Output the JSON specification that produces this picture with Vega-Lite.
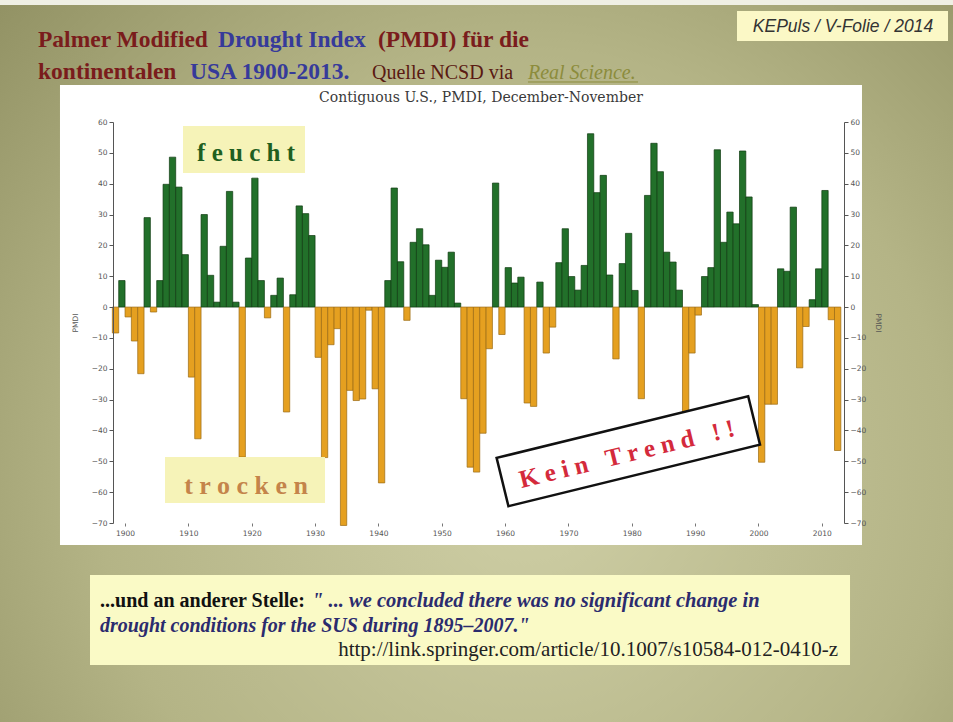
{
  "$schema": "https://vega.github.io/schema/vega-lite/v6.json",
  "width": 731,
  "height": 401,
  "autosize": {"type": "none"},
  "padding": {"left": 113, "top": 122, "right": 109, "bottom": 199},
  "background": "#a9a97c",
  "config": {"view": {"stroke": null}, "font": "Liberation Serif"},
  "data": {"values": [{}]},
  "datasets": {
    "pmdi": [
      {"year": 1898, "pmdi": -8.4}, {"year": 1899, "pmdi": 8.6}, {"year": 1900, "pmdi": -3.2}, {"year": 1901, "pmdi": -11},
      {"year": 1902, "pmdi": -21.6}, {"year": 1903, "pmdi": 29}, {"year": 1904, "pmdi": -1.6}, {"year": 1905, "pmdi": 8.6},
      {"year": 1906, "pmdi": 39.8}, {"year": 1907, "pmdi": 48.6}, {"year": 1908, "pmdi": 38.9}, {"year": 1909, "pmdi": 17},
      {"year": 1910, "pmdi": -22.7}, {"year": 1911, "pmdi": -42.7}, {"year": 1912, "pmdi": 30}, {"year": 1913, "pmdi": 10.3},
      {"year": 1914, "pmdi": 1.6}, {"year": 1915, "pmdi": 19.7}, {"year": 1916, "pmdi": 37.5}, {"year": 1917, "pmdi": 1.6},
      {"year": 1918, "pmdi": -48.6}, {"year": 1919, "pmdi": 15.9}, {"year": 1920, "pmdi": 41.8}, {"year": 1921, "pmdi": 8.6},
      {"year": 1922, "pmdi": -3.5}, {"year": 1923, "pmdi": 3.8}, {"year": 1924, "pmdi": 9.4}, {"year": 1925, "pmdi": -34},
      {"year": 1926, "pmdi": 4}, {"year": 1927, "pmdi": 32.8}, {"year": 1928, "pmdi": 30.3}, {"year": 1929, "pmdi": 23.2},
      {"year": 1930, "pmdi": -16.3}, {"year": 1931, "pmdi": -48.8}, {"year": 1932, "pmdi": -12.2}, {"year": 1933, "pmdi": -7},
      {"year": 1934, "pmdi": -70.8}, {"year": 1935, "pmdi": -27}, {"year": 1936, "pmdi": -30.3}, {"year": 1937, "pmdi": -29.8},
      {"year": 1938, "pmdi": -1}, {"year": 1939, "pmdi": -26.5}, {"year": 1940, "pmdi": -57}, {"year": 1941, "pmdi": 8.6},
      {"year": 1942, "pmdi": 38.6}, {"year": 1943, "pmdi": 14.7}, {"year": 1944, "pmdi": -4.3}, {"year": 1945, "pmdi": 21},
      {"year": 1946, "pmdi": 25.4}, {"year": 1947, "pmdi": 20.2}, {"year": 1948, "pmdi": 3.8}, {"year": 1949, "pmdi": 15.2},
      {"year": 1950, "pmdi": 12.9}, {"year": 1951, "pmdi": 17.8}, {"year": 1952, "pmdi": 1.3}, {"year": 1953, "pmdi": -29.7},
      {"year": 1954, "pmdi": -51.9}, {"year": 1955, "pmdi": -53.5}, {"year": 1956, "pmdi": -40.9}, {"year": 1957, "pmdi": -13.5},
      {"year": 1958, "pmdi": 40.2}, {"year": 1959, "pmdi": -8.9}, {"year": 1960, "pmdi": 12.8}, {"year": 1961, "pmdi": 7.8},
      {"year": 1962, "pmdi": 9.7}, {"year": 1963, "pmdi": -31.1}, {"year": 1964, "pmdi": -32.2}, {"year": 1965, "pmdi": 8.1},
      {"year": 1966, "pmdi": -14.9}, {"year": 1967, "pmdi": -6.5}, {"year": 1968, "pmdi": 14.4}, {"year": 1969, "pmdi": 25.4},
      {"year": 1970, "pmdi": 9.9}, {"year": 1971, "pmdi": 5.5}, {"year": 1972, "pmdi": 13.5}, {"year": 1973, "pmdi": 56.2},
      {"year": 1974, "pmdi": 37.1}, {"year": 1975, "pmdi": 42.7}, {"year": 1976, "pmdi": 10.4}, {"year": 1977, "pmdi": -16.8},
      {"year": 1978, "pmdi": 14.1}, {"year": 1979, "pmdi": 23.9}, {"year": 1980, "pmdi": 5.4}, {"year": 1981, "pmdi": -29.7},
      {"year": 1982, "pmdi": 36.2}, {"year": 1983, "pmdi": 53.1}, {"year": 1984, "pmdi": 43.9}, {"year": 1985, "pmdi": 17.8},
      {"year": 1986, "pmdi": 14.6}, {"year": 1987, "pmdi": 5.5}, {"year": 1988, "pmdi": -37.3}, {"year": 1989, "pmdi": -14.9},
      {"year": 1990, "pmdi": -2.6}, {"year": 1991, "pmdi": 9.9}, {"year": 1992, "pmdi": 12.8}, {"year": 1993, "pmdi": 51},
      {"year": 1994, "pmdi": 21}, {"year": 1995, "pmdi": 30.8}, {"year": 1996, "pmdi": 27}, {"year": 1997, "pmdi": 50.6},
      {"year": 1998, "pmdi": 35.7}, {"year": 1999, "pmdi": 0.8}, {"year": 2000, "pmdi": -50.3}, {"year": 2001, "pmdi": -31.5},
      {"year": 2002, "pmdi": -31.5}, {"year": 2003, "pmdi": 12.4}, {"year": 2004, "pmdi": 11.6}, {"year": 2005, "pmdi": 32.4},
      {"year": 2006, "pmdi": -19.7}, {"year": 2007, "pmdi": -6.3}, {"year": 2008, "pmdi": 2.4}, {"year": 2009, "pmdi": 12.4},
      {"year": 2010, "pmdi": 37.8}, {"year": 2011, "pmdi": -4.1}, {"year": 2012, "pmdi": -46.5}
    ]
  },
  "resolve": {"axis": {"y": "independent", "x": "independent"}},
  "layer": [
    {
      "mark": {"type": "rect", "fill": {"gradient": "radial", "x1": 0.55, "y1": 0.62, "r1": 0, "x2": 0.55, "y2": 0.62, "r2": 0.8, "stops": [{"offset": 0, "color": "#cfcfa6"}, {"offset": 0.55, "color": "#b4b486"}, {"offset": 1, "color": "#8a8a5c"}]}},
      "encoding": {"x": {"datum": 1879, "type": "quantitative", "axis": null}, "x2": {"datum": 2032}, "y": {"datum": 101, "type": "quantitative", "axis": null}, "y2": {"datum": -136}}
    },
    {
      "mark": {"type": "rect", "fill": "#efefe4"},
      "encoding": {"x": {"datum": 1879, "type": "quantitative", "axis": null}, "x2": {"datum": 2032}, "y": {"datum": 101, "type": "quantitative", "axis": null}, "y2": {"datum": 97.93}}
    },
    {
      "mark": {"type": "rect", "fill": "#ffffff"},
      "encoding": {"x": {"datum": 1889.73, "type": "quantitative", "axis": null}, "x2": {"datum": 2016.34}, "y": {"datum": 72.0, "type": "quantitative", "axis": null}, "y2": {"datum": -77.13}}
    },
    {
      "data": {"name": "pmdi"},
      "mark": {"type": "bar", "width": 6.33, "xOffset": 3.17, "strokeWidth": 0.7},
      "encoding": {
        "x": {"field": "year", "type": "quantitative", "scale": {"domain": [1898.1, 2013.5], "nice": false, "zero": false, "padding": 0},
              "axis": {"zindex": 1, "orient": "bottom", "values": [1900, 1910, 1920, 1930, 1940, 1950, 1960, 1970, 1980, 1990, 2000, 2010], "format": "d", "domain": false, "grid": false, "ticks": true, "labels": true, "tickSize": 3, "tickColor": "#777", "labelFont": "DejaVu Sans", "labelFontSize": 7.5, "labelColor": "#555", "labelPadding": 3, "title": ""}},
        "y": {"field": "pmdi", "type": "quantitative", "scale": {"domain": [-70, 60], "nice": false, "zero": false, "padding": 0},
              "axis": {"zindex": 1, "values": [-70, -60, -50, -40, -30, -20, -10, 0, 10, 20, 30, 40, 50, 60], "format": "d", "grid": false, "domainColor": "#555", "tickColor": "#555", "tickSize": 4, "labelFont": "DejaVu Sans", "labelFontSize": 7.5, "labelColor": "#555", "labelPadding": 2, "title": "PMDI", "titleFont": "DejaVu Sans", "titleFontSize": 7.5, "titleFontWeight": "normal", "titleColor": "#555", "titlePadding": 12}},
        "color": {"condition": {"test": "datum.pmdi >= 0", "value": "#22702a"}, "value": "#e5a020"},
        "stroke": {"condition": {"test": "datum.pmdi >= 0", "value": "#0e3a10"}, "value": "#9b6a12"}
      }
    },
    {
      "data": {"name": "pmdi"},
      "mark": {"type": "point", "opacity": 0},
      "encoding": {
        "x": {"field": "year", "type": "quantitative", "axis": null},
        "y": {"field": "pmdi", "type": "quantitative",
              "axis": {"zindex": 1, "orient": "right", "values": [-70, -60, -50, -40, -30, -20, -10, 0, 10, 20, 30, 40, 50, 60], "format": "d", "grid": false, "domainColor": "#555", "tickColor": "#555", "tickSize": 4, "labelFont": "DejaVu Sans", "labelFontSize": 7.5, "labelColor": "#555", "labelPadding": 2, "title": "PMDI", "titleFont": "DejaVu Sans", "titleFontSize": 7.5, "titleFontWeight": "normal", "titleColor": "#555", "titlePadding": 8}}
      }
    },
    {
      "mark": {"type": "text", "text": "Contiguous U.S., PMDI, December-November", "font": "DejaVu Serif", "fontSize": 14, "color": "#3a3a3a", "align": "center", "baseline": "middle"},
      "encoding": {"x": {"datum": 1956.19, "type": "quantitative", "axis": null}, "y": {"datum": 67.78, "type": "quantitative", "axis": null}}
    },
    {
      "mark": {"type": "rect", "fill": "#f6f3b8"},
      "encoding": {"x": {"datum": 1909.15, "type": "quantitative", "axis": null}, "x2": {"datum": 1928.41}, "y": {"datum": 58.7, "type": "quantitative", "axis": null}, "y2": {"datum": 43.47}}
    },
    {
      "mark": {"type": "text", "text": "f e u c h t", "font": "Liberation Serif", "fontSize": 25, "fontWeight": "bold", "color": "#1f5f1f", "align": "center", "baseline": "alphabetic"},
      "encoding": {"x": {"datum": 1919.1, "type": "quantitative", "axis": null}, "y": {"datum": 47.36, "type": "quantitative", "axis": null}}
    },
    {
      "mark": {"type": "rect", "fill": "#f6f3b8"},
      "encoding": {"x": {"datum": 1906.31, "type": "quantitative", "axis": null}, "x2": {"datum": 1931.57}, "y": {"datum": -48.6, "type": "quantitative", "axis": null}, "y2": {"datum": -63.52}}
    },
    {
      "mark": {"type": "text", "text": "t r o c k e n", "font": "Liberation Serif", "fontSize": 26, "fontWeight": "bold", "color": "#c4844a", "align": "center", "baseline": "alphabetic"},
      "encoding": {"x": {"datum": 1919.1, "type": "quantitative", "axis": null}, "y": {"datum": -60.6, "type": "quantitative", "axis": null}}
    },
    {
      "mark": {"type": "point", "shape": "M-1,-0.192L1,-0.192L1,0.192L-1,0.192Z", "size": 67081, "angle": -13.76, "filled": true, "fill": "#ffffff", "stroke": "#111111", "strokeWidth": 2.5, "opacity": 1},
      "encoding": {"x": {"datum": 1979.45, "type": "quantitative", "axis": null}, "y": {"datum": -46.74, "type": "quantitative", "axis": null}}
    },
    {
      "mark": {"type": "text", "text": "K e i n\u00a0\u00a0 T r e n d\u00a0\u00a0 ! !", "font": "Liberation Serif", "fontSize": 25, "fontWeight": "bold", "color": "#d42a3c", "align": "center", "baseline": "middle", "angle": -13.76},
      "encoding": {"x": {"datum": 1979.24, "type": "quantitative", "axis": null}, "y": {"datum": -47.63, "type": "quantitative", "axis": null}}
    },
    {
      "mark": {"type": "rect", "fill": "#fbf8c6"},
      "encoding": {"x": {"datum": 1996.61, "type": "quantitative", "axis": null}, "x2": {"datum": 2029.92}, "y": {"datum": 95.99, "type": "quantitative", "axis": null}, "y2": {"datum": 86.26}}
    },
    {
      "mark": {"type": "text", "text": "KEPuls / V-Folie / 2014", "font": "Liberation Sans", "fontSize": 17.5, "fontStyle": "italic", "color": "#333333", "align": "center", "baseline": "middle"},
      "encoding": {"x": {"datum": 2013.34, "type": "quantitative", "axis": null}, "y": {"datum": 90.96, "type": "quantitative", "axis": null}}
    },
    {
      "mark": {"type": "text", "text": "Palmer Modified", "font": "Liberation Serif", "fontSize": 23.5, "fontWeight": "bold", "color": "#7a1c1c", "align": "left", "baseline": "alphabetic"},
      "encoding": {"x": {"datum": 1886.26, "type": "quantitative", "axis": null}, "y": {"datum": 84.31, "type": "quantitative", "axis": null}}
    },
    {
      "mark": {"type": "text", "text": "Drought Index", "font": "Liberation Serif", "fontSize": 23.5, "fontWeight": "bold", "color": "#363a9a", "align": "left", "baseline": "alphabetic"},
      "encoding": {"x": {"datum": 1914.68, "type": "quantitative", "axis": null}, "y": {"datum": 84.31, "type": "quantitative", "axis": null}}
    },
    {
      "mark": {"type": "text", "text": "(PMDI) für die", "font": "Liberation Serif", "fontSize": 23.5, "fontWeight": "bold", "color": "#7a1c1c", "align": "left", "baseline": "alphabetic"},
      "encoding": {"x": {"datum": 1939.93, "type": "quantitative", "axis": null}, "y": {"datum": 84.31, "type": "quantitative", "axis": null}}
    },
    {
      "mark": {"type": "text", "text": "kontinentalen", "font": "Liberation Serif", "fontSize": 23.5, "fontWeight": "bold", "color": "#7a1c1c", "align": "left", "baseline": "alphabetic"},
      "encoding": {"x": {"datum": 1886.26, "type": "quantitative", "axis": null}, "y": {"datum": 73.94, "type": "quantitative", "axis": null}}
    },
    {
      "mark": {"type": "text", "text": "USA 1900-2013.", "font": "Liberation Serif", "fontSize": 23.5, "fontWeight": "bold", "color": "#363a9a", "align": "left", "baseline": "alphabetic"},
      "encoding": {"x": {"datum": 1910.26, "type": "quantitative", "axis": null}, "y": {"datum": 73.94, "type": "quantitative", "axis": null}}
    },
    {
      "mark": {"type": "text", "text": "Quelle NCSD via", "font": "Liberation Serif", "fontSize": 20, "color": "#5a1a12", "align": "left", "baseline": "alphabetic"},
      "encoding": {"x": {"datum": 1938.99, "type": "quantitative", "axis": null}, "y": {"datum": 73.94, "type": "quantitative", "axis": null}}
    },
    {
      "mark": {"type": "text", "text": "Real Science.", "font": "Liberation Serif", "fontSize": 20, "fontStyle": "italic", "color": "#8c8c3c", "align": "left", "baseline": "alphabetic"},
      "encoding": {"x": {"datum": 1963.61, "type": "quantitative", "axis": null}, "y": {"datum": 73.94, "type": "quantitative", "axis": null}}
    },
    {
      "mark": {"type": "rule", "color": "#8c8c3c", "strokeWidth": 1},
      "encoding": {"x": {"datum": 1963.61, "type": "quantitative", "axis": null}, "x2": {"datum": 1980.98}, "y": {"datum": 72.97, "type": "quantitative", "axis": null}}
    },
    {
      "mark": {"type": "rect", "fill": "#fafac6"},
      "encoding": {"x": {"datum": 1894.47, "type": "quantitative", "axis": null}, "x2": {"datum": 2014.45}, "y": {"datum": -86.86, "type": "quantitative", "axis": null}, "y2": {"datum": -116.04}}
    },
    {
      "mark": {"type": "text", "text": "...und an anderer Stelle:", "font": "Liberation Serif", "fontSize": 20, "fontWeight": "bold", "color": "#111111", "align": "left", "baseline": "alphabetic"},
      "encoding": {"x": {"datum": 1896.05, "type": "quantitative", "axis": null}, "y": {"datum": -97.23, "type": "quantitative", "axis": null}}
    },
    {
      "mark": {"type": "text", "text": "\" ... we concluded there was no significant change in", "font": "Liberation Serif", "fontSize": 20.5, "fontWeight": "bold", "fontStyle": "italic", "color": "#2b2b6e", "align": "left", "baseline": "alphabetic"},
      "encoding": {"x": {"datum": 1929.52, "type": "quantitative", "axis": null}, "y": {"datum": -97.23, "type": "quantitative", "axis": null}}
    },
    {
      "mark": {"type": "text", "text": "drought conditions for the SUS during 1895–2007.\"", "font": "Liberation Serif", "fontSize": 20, "fontWeight": "bold", "fontStyle": "italic", "color": "#2b2b6e", "align": "left", "baseline": "alphabetic"},
      "encoding": {"x": {"datum": 1896.05, "type": "quantitative", "axis": null}, "y": {"datum": -105.34, "type": "quantitative", "axis": null}}
    },
    {
      "mark": {"type": "text", "text": "http://link.springer.com/article/10.1007/s10584-012-0410-z", "font": "Liberation Serif", "fontSize": 21, "color": "#222222", "align": "right", "baseline": "alphabetic"},
      "encoding": {"x": {"datum": 2012.55, "type": "quantitative", "axis": null}, "y": {"datum": -113.12, "type": "quantitative", "axis": null}}
    }
  ]
}
